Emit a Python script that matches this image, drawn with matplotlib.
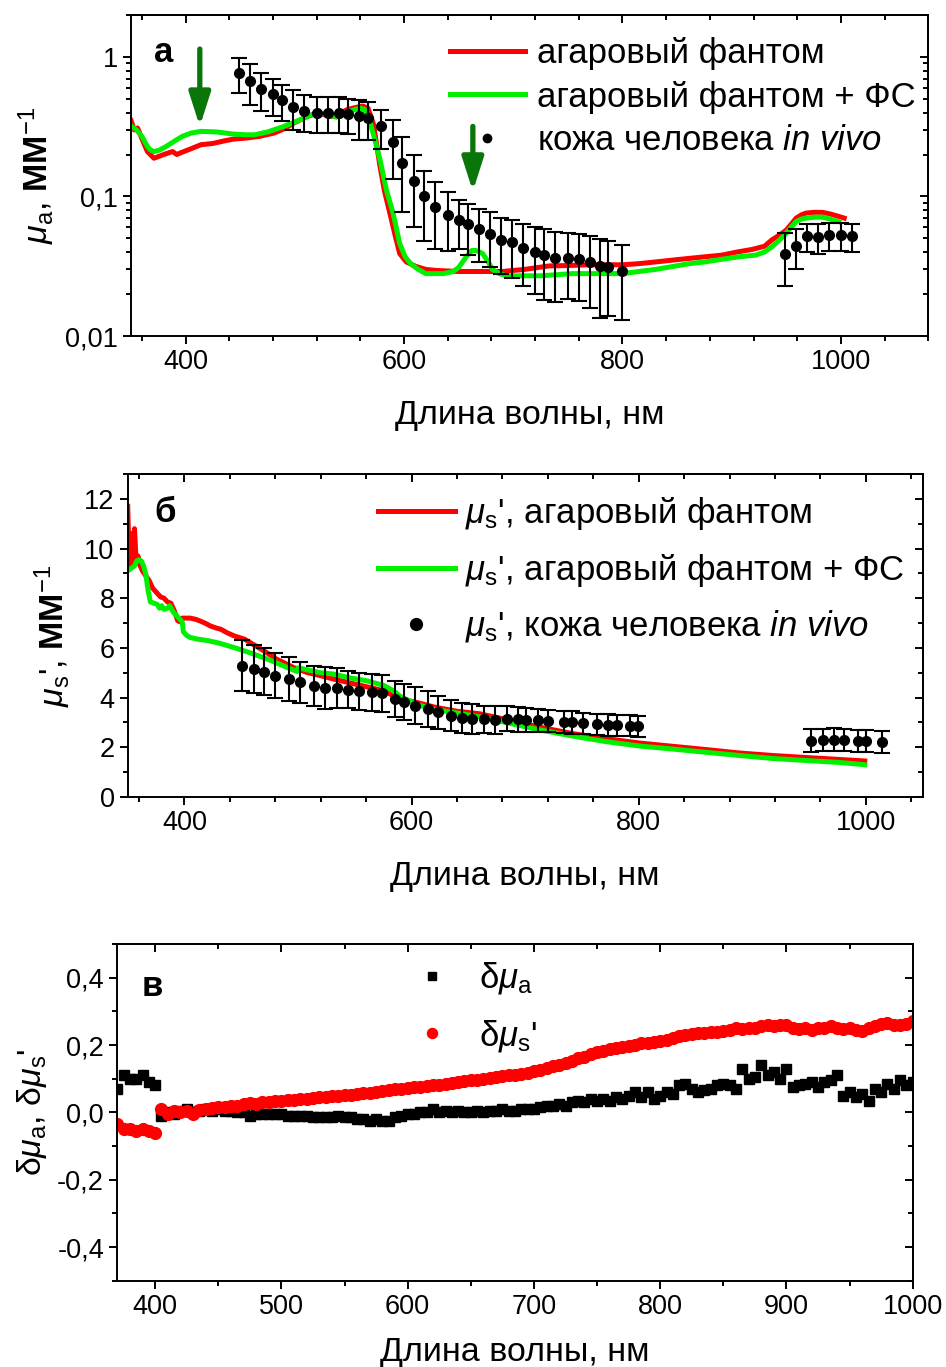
import numpy as np
import matplotlib
matplotlib.use("Agg")
import matplotlib.pyplot as plt
from matplotlib.ticker import MultipleLocator, AutoMinorLocator, FuncFormatter, LogLocator, NullFormatter
from matplotlib.lines import Line2D

plt.rcParams['font.family'] = ['Liberation Sans', 'DejaVu Sans']
plt.rcParams['mathtext.fontset'] = 'custom'
plt.rcParams['mathtext.rm'] = 'Liberation Sans'
plt.rcParams['mathtext.it'] = 'Liberation Sans:italic'
plt.rcParams['mathtext.bf'] = 'Liberation Sans:bold'
plt.rcParams['axes.linewidth'] = 1.4

RED = '#ff0000'
GREEN = '#00f000'
ARROW = '#0a760a'

# ---- panel a: absorption ----
wl_red_a = [350, 353, 356, 360, 365, 371, 380, 388, 392, 395, 405, 414, 425, 435, 444, 455, 468, 481, 490,
            499, 510, 520, 528, 535, 541, 548, 556, 562, 567, 572, 578, 582, 587, 592, 596, 602, 611, 620,
            630, 650, 670, 690, 710, 733, 750, 770, 800, 815, 831, 846, 861, 876, 891, 905, 919, 930, 937,
            944, 950, 955, 959, 964, 968, 975, 983, 990, 998, 1003]
mua_red = [0.35, 0.30, 0.31, 0.26, 0.21, 0.188, 0.20, 0.21, 0.20, 0.205, 0.22, 0.235, 0.24, 0.25, 0.258,
           0.262, 0.27, 0.285, 0.305, 0.336, 0.37, 0.396, 0.385, 0.375, 0.39, 0.42, 0.435, 0.445, 0.43,
           0.33, 0.164, 0.11, 0.076, 0.052, 0.039, 0.034, 0.0315, 0.030, 0.0295, 0.029, 0.029, 0.029,
           0.030, 0.0318, 0.032, 0.0324, 0.0324, 0.033, 0.034, 0.035, 0.036, 0.037, 0.038, 0.040, 0.0418,
           0.044, 0.049, 0.053, 0.0575, 0.064, 0.070, 0.074, 0.076, 0.077, 0.077, 0.075, 0.072, 0.070]

wl_green_a = [350, 355, 360, 365, 368, 371, 376, 382, 390, 397, 405, 414, 429, 444, 455, 463, 475, 490, 505,
              515, 520, 529, 538, 547, 555, 560, 564, 568, 573, 578, 584, 590, 596, 601, 606, 613, 620, 636,
              645, 650, 657, 662, 666, 672, 677, 681, 687, 694, 710, 724, 740, 754, 780, 800, 815, 830, 846,
              861, 876, 891, 907, 922, 930, 937, 944, 950, 955, 959, 964, 968, 975, 983, 990, 998]
mua_green = [0.32, 0.30, 0.27, 0.228, 0.215, 0.21, 0.215, 0.228, 0.25, 0.27, 0.285, 0.293, 0.29, 0.28,
             0.277, 0.277, 0.29, 0.318, 0.355, 0.385, 0.396, 0.39, 0.37, 0.40, 0.42, 0.43, 0.42, 0.36, 0.26,
             0.183, 0.11, 0.076, 0.046, 0.037, 0.033, 0.030, 0.028, 0.028, 0.029, 0.031, 0.037, 0.041, 0.041,
             0.039, 0.034, 0.030, 0.028, 0.027, 0.027, 0.027, 0.0275, 0.028, 0.028, 0.028, 0.029, 0.030,
             0.0315, 0.033, 0.034, 0.0355, 0.037, 0.038, 0.040, 0.0437, 0.049, 0.0546, 0.061, 0.066, 0.069,
             0.070, 0.071, 0.0712, 0.069, 0.066]

wl_skin_a = [449, 459, 469, 480, 488, 498, 508, 520, 530, 540, 549, 559, 567, 579, 590, 598, 609, 618, 628,
             640, 650, 659, 669, 679, 689, 699, 709, 720, 728, 738, 750, 760, 770, 779, 787, 800,
             949, 959, 969, 979, 989, 1000, 1010]
mua_skin = [0.77, 0.67, 0.59, 0.54, 0.49, 0.44, 0.41, 0.40, 0.40, 0.40, 0.39, 0.375, 0.365, 0.32, 0.244,
            0.173, 0.130, 0.100, 0.084, 0.074, 0.068, 0.063, 0.058, 0.054, 0.049, 0.047, 0.043, 0.040,
            0.038, 0.0365, 0.0365, 0.0357, 0.034, 0.0315, 0.031, 0.029,
            0.039, 0.044, 0.052, 0.051, 0.053, 0.053, 0.052]
mua_skin_err = [0.22, 0.22, 0.18, 0.16, 0.14, 0.14, 0.12, 0.115, 0.115, 0.115, 0.11, 0.12, 0.11, 0.10, 0.11,
                0.095, 0.07, 0.052, 0.042, 0.033, 0.026, 0.025, 0.024, 0.023, 0.021, 0.021, 0.020, 0.020,
                0.020, 0.019, 0.018, 0.018, 0.018, 0.018, 0.017, 0.016,
                0.016, 0.014, 0.012, 0.012, 0.012, 0.012, 0.012]

# arrows marking the photosensitizer bands (wavelength, top, tip)
arrow_wl = [413, 663]
arrow_top = [1.14, 0.318]
arrow_tip = [0.318, 0.109]

# ---- panel b: reduced scattering ----
wl_red_b = [350, 351.5, 353, 354.5, 356, 357.5, 359, 361, 363, 366, 369, 372, 376, 379, 382, 385, 388, 391,
            394, 396, 398, 405, 410, 414, 418, 423, 428, 432, 438, 444, 453, 462, 470, 481, 490, 496, 508,
            520, 531, 545, 560, 575, 583, 590, 605, 620, 640, 660, 683, 713, 742, 771, 801, 830, 859, 889,
            918, 947, 977, 999]
mus_red = [11.7, 9.2, 10.6, 9.3, 10.8, 9.4, 9.7, 9.3, 9.1, 8.9, 8.7, 8.4, 8.2, 8.05, 8.0, 7.85, 7.8, 7.5,
           7.1, 7.05, 7.2, 7.2, 7.15, 7.08, 7.0, 6.88, 6.8, 6.75, 6.6, 6.48, 6.35, 6.1, 5.88, 5.55, 5.35,
           5.21, 5.01, 4.88, 4.75, 4.6, 4.44, 4.28, 4.1, 3.95, 3.8, 3.62, 3.45, 3.35, 3.12, 2.81, 2.55,
           2.35, 2.17, 2.04, 1.91, 1.77, 1.67, 1.59, 1.51, 1.45]

wl_green_b = [350, 353, 356, 358, 360, 362, 364, 366, 368, 370, 373, 376, 378, 380, 382, 385, 387, 390, 393,
              396, 398, 399, 402, 405, 412, 420, 430, 444, 458, 473, 486, 499, 500, 510, 520, 531, 545, 560,
              575, 583, 590, 605, 620, 640, 660, 683, 713, 742, 771, 801, 830, 859, 889, 918, 947, 977, 999]
mus_green = [9.1, 9.2, 9.3, 9.5, 9.55, 9.5, 9.3, 8.95, 8.3, 7.85, 7.8, 7.75, 7.6, 7.7, 7.55, 7.6, 7.7, 7.45,
             7.3, 7.15, 7.05, 6.65, 6.5, 6.42, 6.35, 6.3, 6.2, 6.01, 5.8, 5.55, 5.3, 5.05, 5.2, 5.1, 5.0,
             4.95, 4.8, 4.68, 4.5, 4.3, 4.05, 3.72, 3.52, 3.38, 3.22, 3.0, 2.7, 2.45, 2.23, 2.05, 1.93, 1.8,
             1.67, 1.55, 1.47, 1.39, 1.30]

wl_skin_b = [451, 461, 470, 480, 492, 502, 514, 524, 534, 544, 554, 565, 574, 585, 593, 603, 614, 623, 635,
             644, 653, 664, 673, 684, 694, 701, 711, 720, 734, 741, 751, 763, 773, 781, 792, 799,
             952, 962, 972, 981, 993, 1000, 1014]
mus_skin = [5.28, 5.15, 5.04, 4.88, 4.75, 4.61, 4.48, 4.39, 4.39, 4.32, 4.25, 4.21, 4.17, 3.95, 3.81, 3.68,
            3.55, 3.41, 3.28, 3.19, 3.15, 3.12, 3.1, 3.15, 3.12, 3.1, 3.08, 3.06, 3.03, 3.0, 2.96, 2.92,
            2.9, 2.88, 2.87, 2.85,
            2.27, 2.29, 2.31, 2.29, 2.27, 2.27, 2.23]
mus_skin_err = [1.03, 0.97, 0.95, 0.91, 0.88, 0.84, 0.81, 0.85, 0.81, 0.75, 0.75, 0.73, 0.73, 0.73, 0.73,
                0.75, 0.72, 0.67, 0.61, 0.6, 0.6, 0.55, 0.55, 0.5, 0.5, 0.48, 0.47, 0.46, 0.45, 0.45, 0.44,
                0.44, 0.43, 0.43, 0.43, 0.43,
                0.46, 0.45, 0.45, 0.45, 0.44, 0.44, 0.44]

# ---- panel c: relative differences ----
wl_c = list(range(370, 1001, 5))
d_mua = [0.07, 0.11, 0.10, 0.10, 0.11, 0.09, 0.08,
         -0.01, 0.0, -0.005, 0.005, 0.01, 0.0, 0.005, 0.01, 0.005, 0.01, 0.005, 0.005, 0.0, 0.0, -0.01,
         -0.005, -0.005, -0.005, -0.005, -0.005, -0.01, -0.01, -0.01, -0.01, -0.015, -0.015, -0.015, -0.015,
         -0.01, -0.015, -0.015, -0.02, -0.02, -0.025, -0.02, -0.025, -0.025, -0.015, -0.01, -0.005, -0.005,
         0.0, 0.0, 0.01, 0.0, 0.005, 0.0, 0.005, 0.0, 0.0, 0.005, 0.0, 0.005, 0.005, 0.01, 0.005, 0.005,
         0.01, 0.01, 0.01, 0.015, 0.02, 0.02, 0.025, 0.02, 0.03, 0.035, 0.03, 0.04, 0.035, 0.04, 0.035,
         0.045, 0.04, 0.05, 0.06, 0.045, 0.06, 0.04, 0.05, 0.06, 0.055, 0.08, 0.085, 0.07, 0.06, 0.065,
         0.07, 0.08, 0.085, 0.08, 0.07, 0.13, 0.10, 0.105, 0.14, 0.11, 0.12, 0.10, 0.13, 0.075, 0.08,
         0.085, 0.09, 0.075, 0.09, 0.095, 0.11, 0.05, 0.06, 0.045, 0.055, 0.035, 0.07, 0.06, 0.085, 0.07,
         0.095, 0.08, 0.09]
d_mus = [-0.035, -0.05, -0.05, -0.055, -0.05, -0.055, -0.06,
         0.01, -0.005, 0.005, 0.0, 0.005, -0.005, 0.008, 0.01, 0.012, 0.015, 0.015, 0.02, 0.02, 0.025,
         0.028, 0.025, 0.03, 0.03, 0.033, 0.035, 0.036, 0.038, 0.04, 0.04, 0.042, 0.045, 0.045, 0.048,
         0.05, 0.052, 0.053, 0.055, 0.058, 0.058, 0.06, 0.063, 0.065, 0.068, 0.07, 0.072, 0.074, 0.076,
         0.078, 0.08, 0.082, 0.084, 0.087, 0.09, 0.092, 0.095, 0.097, 0.10, 0.102, 0.104, 0.107, 0.11,
         0.112, 0.115, 0.118, 0.122, 0.127, 0.132, 0.137, 0.142, 0.148, 0.153, 0.16, 0.165, 0.172, 0.178,
         0.183, 0.188, 0.19, 0.195, 0.197, 0.20, 0.205, 0.207, 0.21, 0.212, 0.215, 0.22, 0.228, 0.23,
         0.232, 0.235, 0.237, 0.24, 0.24, 0.242, 0.245, 0.25, 0.248, 0.252, 0.25, 0.255, 0.258, 0.255,
         0.26, 0.258, 0.252, 0.248, 0.25, 0.245, 0.252, 0.25, 0.255, 0.25, 0.248, 0.252, 0.245, 0.242,
         0.25, 0.255, 0.262, 0.265, 0.258, 0.26, 0.262, 0.27]

TICK_FS = 19.5
LABEL_FS = 24.5
LEG_FS = 25
LW = 3.6


def comma(fmt):
    return FuncFormatter(lambda v, p: fmt.format(v).replace('.', ','))


def style_axes(ax, xmajor, xminor_n, log=False, ymajor=None, yminor=None):
    ax.tick_params(which='both', direction='out', top=False, right=False, width=1.4, labelsize=TICK_FS)
    ax.tick_params(which='major', length=6)
    ax.tick_params(which='minor', length=3.5)
    ax.xaxis.set_major_locator(MultipleLocator(xmajor))
    ax.xaxis.set_minor_locator(AutoMinorLocator(xminor_n))
    if not log:
        ax.yaxis.set_major_locator(MultipleLocator(ymajor))
        ax.yaxis.set_minor_locator(MultipleLocator(yminor))
    top = ax.secondary_xaxis('top')
    top.xaxis.set_major_locator(MultipleLocator(xmajor))
    top.xaxis.set_minor_locator(AutoMinorLocator(xminor_n))
    right = ax.secondary_yaxis('right')
    if not log:
        right.yaxis.set_major_locator(MultipleLocator(ymajor))
        right.yaxis.set_minor_locator(MultipleLocator(yminor))
    else:
        right.yaxis.set_major_locator(LogLocator(base=10))
        right.yaxis.set_minor_locator(LogLocator(base=10, subs=np.arange(2, 10)))
    for sec in (top, right):
        sec.tick_params(which='both', direction='in', width=1.4, labeltop=False, labelright=False)
        sec.tick_params(which='major', length=6)
        sec.tick_params(which='minor', length=3.5)
        sec.xaxis.set_minor_formatter(NullFormatter())
        sec.yaxis.set_minor_formatter(NullFormatter())


fig = plt.figure(figsize=(9.46, 13.67), dpi=100)
W, H = 946, 1367
ax_a = fig.add_axes([131 / W, 1 - 336 / H, 797.3 / W, 321 / H])
ax_b = fig.add_axes([127.7 / W, 1 - 797 / H, 795 / W, 323 / H])
ax_c = fig.add_axes([117.3 / W, 1 - 1280.7 / H, 795.4 / W, 336.7 / H])

# ---------- а ----------
ax_a.plot(wl_red_a, mua_red, color=RED, lw=LW, label='агаровый фантом')
ax_a.plot(wl_green_a, mua_green, color=GREEN, lw=LW, label='агаровый фантом + ФС')
ax_a.errorbar(wl_skin_a, mua_skin, yerr=mua_skin_err, fmt='o', color='k', ms=7, elinewidth=1.5,
              capsize=5.5, capthick=1.5, zorder=3)
for x, y0, y1 in zip(arrow_wl, arrow_top, arrow_tip):
    ax_a.annotate('', xy=(x, y1), xytext=(x, y0),
                  arrowprops=dict(arrowstyle='-|>,head_width=0.32,head_length=1.0', color=ARROW,
                                  lw=3.8, mutation_scale=20, shrinkA=0, shrinkB=0))
ax_a.set_yscale('log')
ax_a.set_xlim(350, 1080)
ax_a.set_ylim(0.01, 2.0)
style_axes(ax_a, 200, 5, log=True)
ax_a.yaxis.set_major_formatter(comma('{:g}'))
ax_a.yaxis.set_minor_formatter(NullFormatter())
ax_a.set_xlabel('Длина волны, нм', fontsize=LABEL_FS, labelpad=18)
ax_a.set_ylabel(r'$\mu_\mathrm{a}$, $\mathbf{ММ}^{-1}$', fontsize=LABEL_FS, labelpad=6)
ax_a.text(0.029, 0.853, 'а', transform=ax_a.transAxes, fontsize=LEG_FS, fontweight='bold')
h_a = ax_a.get_legend_handles_labels()[0]
h_a.append(Line2D([], [], ls='none', marker='o', color='k', ms=6))
ax_a.legend(h_a, ['агаровый фантом', 'агаровый фантом + ФС', r'кожа человека $\mathit{in\ vivo}$'],
            loc='upper left', bbox_to_anchor=(0.40, 0.932), frameon=False, fontsize=LEG_FS,
            handlelength=2.16, handletextpad=0.35, labelspacing=0.31, borderpad=0, borderaxespad=0)

# ---------- б ----------
ax_b.plot(wl_red_b, mus_red, color=RED, lw=LW)
ax_b.plot(wl_green_b, mus_green, color=GREEN, lw=LW)
ax_b.errorbar(wl_skin_b, mus_skin, yerr=mus_skin_err, fmt='o', color='k', ms=7, elinewidth=1.5,
              capsize=5.5, capthick=1.5, zorder=3)
ax_b.set_xlim(350, 1050)
ax_b.set_ylim(0, 13)
style_axes(ax_b, 200, 5, ymajor=2, yminor=1)
ax_b.set_xlabel('Длина волны, нм', fontsize=LABEL_FS, labelpad=18)
ax_b.set_ylabel(r"$\mu_\mathrm{s}$', $\mathbf{ММ}^{-1}$", fontsize=LABEL_FS, labelpad=8)
ax_b.text(0.034, 0.852, 'б', transform=ax_b.transAxes, fontsize=LEG_FS, fontweight='bold')
h_b = [Line2D([], [], color=RED, lw=LW), Line2D([], [], color=GREEN, lw=LW),
       Line2D([], [], ls='none', marker='o', color='k', ms=8.5)]
ax_b.legend(h_b, [r"$\mu_\mathrm{s}$', агаровый фантом", r"$\mu_\mathrm{s}$', агаровый фантом + ФС",
                  r"$\mu_\mathrm{s}$', кожа человека $\mathit{in\ vivo}$"],
            loc='upper left', bbox_to_anchor=(0.315, 0.934), frameon=False, fontsize=LEG_FS,
            handlelength=2.2, handletextpad=0.3, labelspacing=0.56, borderpad=0, borderaxespad=0)

# ---------- в ----------
ax_c.plot(wl_c, d_mua, ls='none', marker='s', color='k', ms=6.8, label=r'δ$\mu_\mathrm{a}$')
ax_c.plot(wl_c, d_mus, ls='none', marker='o', color=RED, ms=8.5, label=r"δ$\mu_\mathrm{s}$'")
ax_c.set_xlim(370, 1000)
ax_c.set_ylim(-0.5, 0.5)
style_axes(ax_c, 100, 2, ymajor=0.2, yminor=0.1)
ax_c.yaxis.set_major_formatter(comma('{:.1f}'))
ax_c.set_xlabel('Длина волны, нм', fontsize=LABEL_FS, labelpad=12)
ax_c.set_ylabel(r"δ$\mu_\mathrm{a}$, δ$\mu_\mathrm{s}$'", fontsize=LABEL_FS, labelpad=6)
ax_c.text(0.031, 0.846, 'в', transform=ax_c.transAxes, fontsize=LEG_FS, fontweight='bold')
ax_c.legend(loc='upper left', bbox_to_anchor=(0.374, 0.952), frameon=False, fontsize=LEG_FS,
            handlelength=1.0, handletextpad=0.86, labelspacing=0.62, borderpad=0, borderaxespad=0,
            markerscale=0.85)

fig.savefig('out.png', dpi=100)
